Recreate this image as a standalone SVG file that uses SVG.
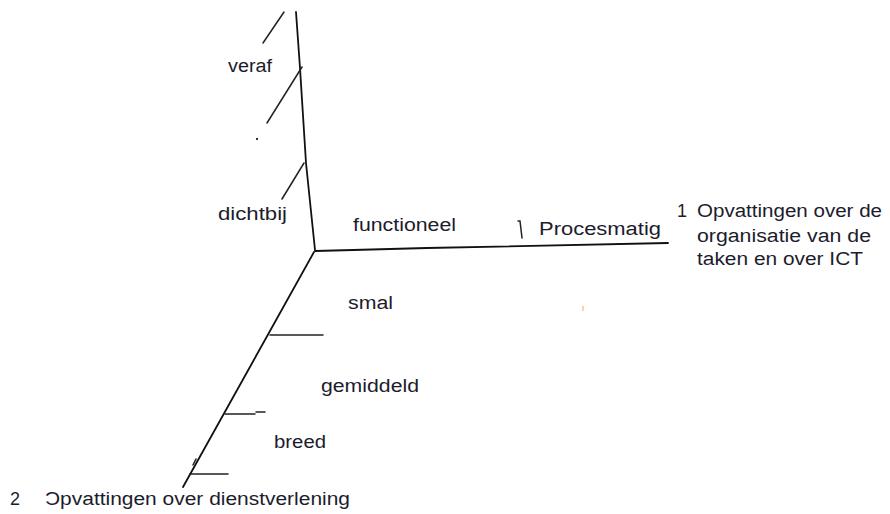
<svg xmlns="http://www.w3.org/2000/svg" width="890" height="514" viewBox="0 0 890 514">
<style>
.ax{fill:none;stroke:#111;stroke-width:1.8;stroke-linecap:round;stroke-linejoin:round}
.tk{fill:none;stroke:#222;stroke-width:1.5;stroke-linecap:round}
text{font-family:"Liberation Sans",Arial,sans-serif;font-size:18px;fill:#1c1c2c}
</style>
<rect width="890" height="514" fill="#fff"/>
<g id="connectors">
<path class="ax" d="M296,12 L300,68 L306,163 L315,250"/>
<path class="ax" d="M315,251 L353,250 L427,248 L668,243"/>
<path class="ax" d="M314,252 L183,487"/>
<path class="tk" d="M284,12 L263,43"/>
<path class="tk" d="M302,67 L267,123"/>
<path class="tk" d="M304,163 L282,199"/>
<path class="tk" d="M270,335 L323,335"/>
<path class="tk" d="M225,414 L255,414 M256,412 L265,412"/>
<path class="tk" d="M190,474 L228,474"/>
<path class="tk" d="M193,465 L196,459"/>
<path class="tk" d="M518,221 L520,221 L522,238"/>
<rect x="256" y="138" width="2" height="2" fill="#333"/>
<line x1="583" y1="306" x2="583" y2="311" stroke="#f7c98c" stroke-width="1.5"/>
</g>
<g id="veraf"><text x="228" y="72" textLength="44" lengthAdjust="spacingAndGlyphs">veraf</text></g>
<g id="dichtbij"><text x="218" y="220" textLength="69" lengthAdjust="spacingAndGlyphs">dichtbij</text></g>
<g id="functioneel"><text x="353" y="231" textLength="103" lengthAdjust="spacingAndGlyphs">functioneel</text></g>
<g id="procesmatig"><text x="539" y="235" textLength="122" lengthAdjust="spacingAndGlyphs">Procesmatig</text></g>
<g id="as1">
<text x="677" y="217">1</text>
<text x="697" y="217" textLength="185" lengthAdjust="spacingAndGlyphs">Opvattingen over de</text>
<text x="697" y="242" textLength="174" lengthAdjust="spacingAndGlyphs">organisatie van de</text>
<text x="697" y="265" textLength="166" lengthAdjust="spacingAndGlyphs">taken en over ICT</text>
</g>
<g id="smal"><text x="348" y="309" textLength="45" lengthAdjust="spacingAndGlyphs">smal</text></g>
<g id="gemiddeld"><text x="321" y="392" textLength="98" lengthAdjust="spacingAndGlyphs">gemiddeld</text></g>
<g id="breed"><text x="274" y="448" textLength="52" lengthAdjust="spacingAndGlyphs">breed</text></g>
<g id="as2">
<text x="10" y="505">2</text>
<text x="45" y="505" textLength="305" lengthAdjust="spacingAndGlyphs">Ɔpvattingen over dienstverlening</text>
</g>
</svg>
